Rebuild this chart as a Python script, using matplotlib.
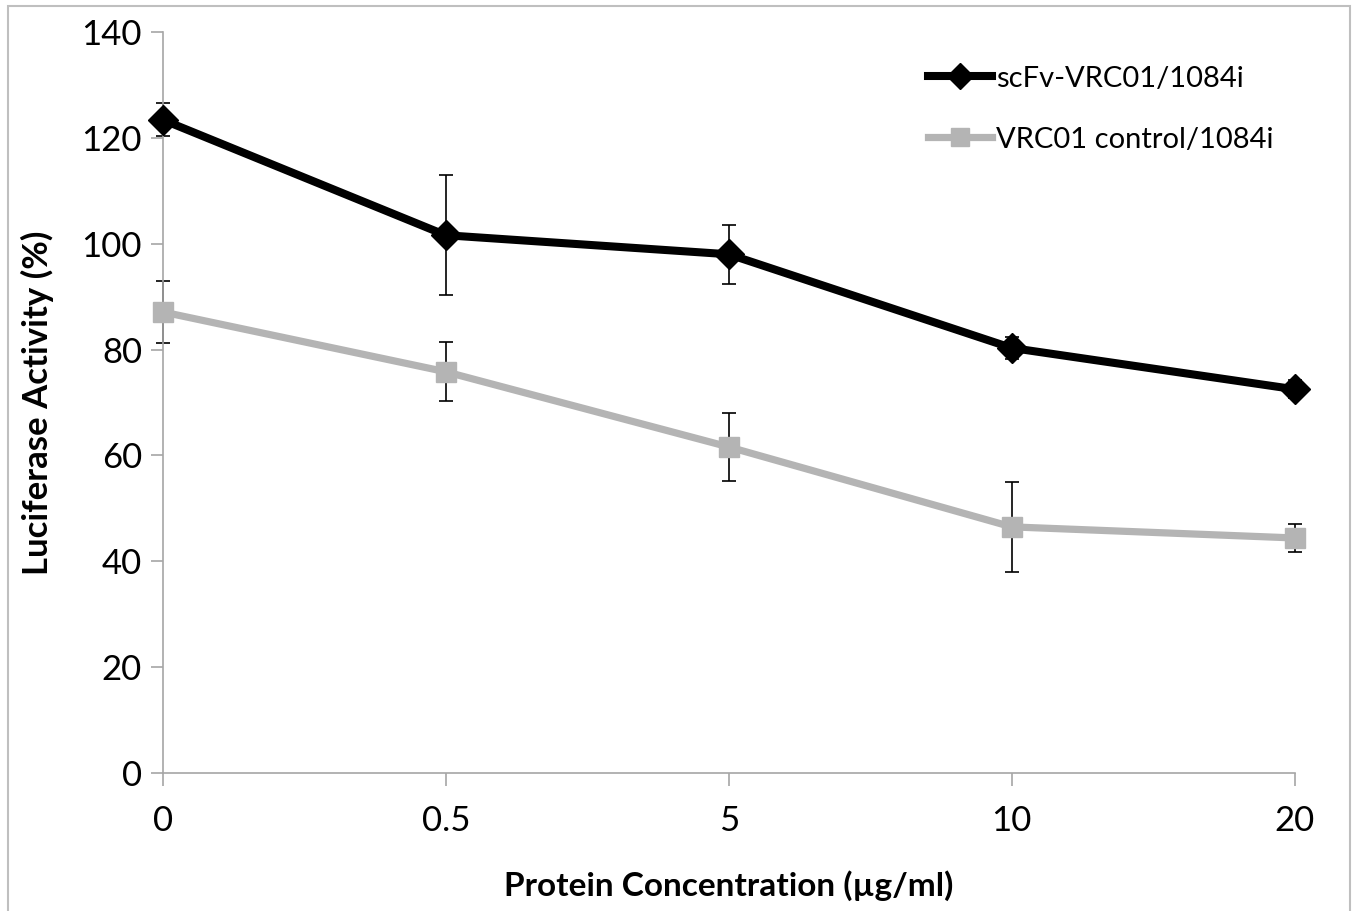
import matplotlib.pyplot as plt
from matplotlib.patches import Rectangle

plt.rcParams['font.family'] = ['Lato', 'DejaVu Sans']

concentrations = ['0', '0.5', '5', '10', '20']
scfv_mean = [123.4, 101.6, 98.0, 80.3, 72.5]
scfv_err = [3.1, 11.3, 5.6, 2.1, 1.7]
control_mean = [87.1, 75.8, 61.6, 46.5, 44.4]
control_err = [5.9, 5.6, 6.4, 8.5, 2.6]
series_names = ['scFv-VRC01/1084i', 'VRC01 control/1084i']

fig = plt.figure(figsize=(13.57, 9.11), dpi=100)
ax = fig.add_axes([0.120, 0.1515, 0.834, 0.8134])

x = list(range(len(concentrations)))

# error bars first, lines and markers drawn on top
for mean, err in [(control_mean, control_err), (scfv_mean, scfv_err)]:
    eb = ax.errorbar(x, mean, yerr=err, fmt='none', ecolor='black',
                     elinewidth=1.2, capsize=5, capthick=1.2, zorder=2)
    for art in eb.lines[1] + eb.lines[2]:
        art.set_clip_on(False)
    for art in eb.lines[2]:
        art.set_clip_on(False)

ax.plot(x, scfv_mean, color='black', lw=5.8, marker='D', markersize=15,
        label=series_names[0], zorder=3, clip_on=False)
ax.plot(x, control_mean, color='#B4B4B4', lw=5.2, marker='s', markersize=15,
        label=series_names[1], zorder=3, clip_on=False)

ax.set_xlim(0, 4)
ax.set_ylim(0, 140)
ax.set_xticks(x)
ax.set_xticklabels(concentrations)
ax.set_yticks(range(0, 141, 20))
ax.tick_params(axis='both', labelsize=25, length=9, width=1.2, color='#A6A6A6')
ax.tick_params(axis='x', pad=14)
ax.tick_params(axis='y', pad=6)
for s in ['top', 'right']:
    ax.spines[s].set_visible(False)
for s in ['left', 'bottom']:
    ax.spines[s].set_color('#A6A6A6')
    ax.spines[s].set_linewidth(1.2)

ax.set_xlabel('Protein Concentration (µg/ml)', fontsize=24, fontweight='bold', labelpad=24)
ax.set_ylabel('Luciferase Activity (%)', fontsize=25, fontweight='bold', labelpad=20)

ax.legend(loc='upper right', bbox_to_anchor=(1.005, 0.99), frameon=False, fontsize=21,
          handlelength=2.2, handletextpad=0.15, labelspacing=1.2, markerscale=0.85)

fig.patches.append(Rectangle((8 / 1357, -0.01), 1342 / 1357, 1 - 6 / 911 + 0.01,
                             transform=fig.transFigure, fill=False,
                             edgecolor='#BFBFBF', lw=1.5))

fig.savefig('out.png', dpi=100)
